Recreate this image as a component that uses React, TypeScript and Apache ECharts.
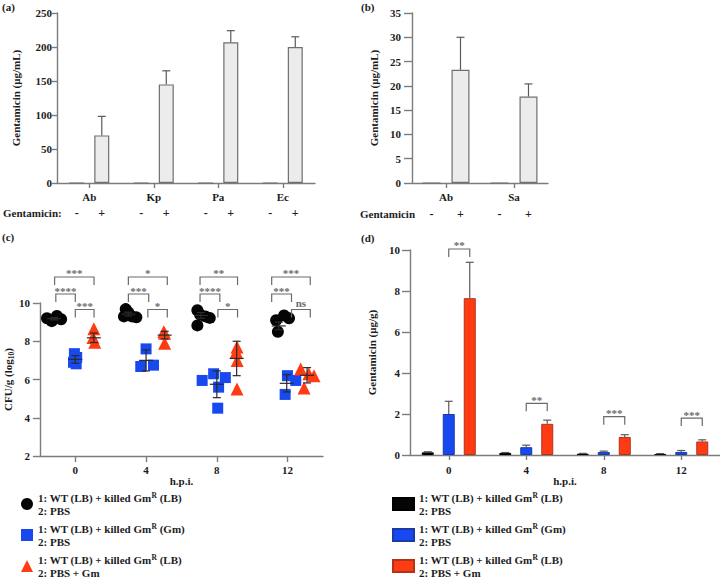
import React, { useEffect, useRef } from "react";
import * as echarts from "echarts";

// ---------------- data ----------------
const aCategories = ["Ab", "Kp", "Pa", "Ec"];
const aWithout = [0, 0, 0, 0];
const aWith = [70, 145, 207, 200];
const aWithErr = [98, 165, 224, 215];

const bCategories = ["Ab", "Sa"];
const bWithout = [0, 0];
const bWith = [23.3, 17.8];
const bWithErr = [30, 20.4];

const gentamicinSigns = ["-", "+"];

const hpiTicks = [0, 4, 8, 12];

// panel (c): [h.p.i. (jittered), CFU/g log10]
const cBlackPoints = [
  [-1.6, 9.2], [-1.33, 9.05], [-1.04, 9.32], [-0.8, 9.15],
  [2.75, 9.3], [2.85, 9.68], [3.0, 9.5], [3.2, 9.3], [3.45, 9.25],
  [6.9, 9.62], [7.05, 9.4], [7.35, 9.3], [7.6, 9.22], [6.9, 8.83],
  [11.35, 9.1], [11.8, 9.35], [12.08, 9.2], [11.45, 8.5],
];
const cBluePoints = [
  [-0.05, 7.35], [0.08, 7.15], [-0.1, 6.9], [0.05, 6.82],
  [4.0, 7.6], [3.7, 6.68], [4.42, 6.75],
  [7.17, 5.95], [7.82, 6.3], [8.1, 5.6], [8.48, 6.1], [8.05, 4.5],
  [11.86, 5.22], [11.99, 6.2], [12.46, 5.95],
];
const cRedPoints = [
  [1.05, 8.65], [1.0, 8.2], [1.1, 7.95],
  [5.0, 8.5], [5.05, 8.42], [5.05, 7.9],
  [9.14, 7.7], [9.1, 7.45], [9.15, 7.0], [9.14, 5.5],
  [12.74, 6.55], [12.93, 5.55], [13.49, 6.2], [13.2, 6.3],
];
const cBlackMeanX = [-1.2, 3.0, 7.1, 11.5];
const cBlackMean = [9.18, 9.42, 9.35, 8.8];
const cBlackSem = [0.06, 0.1, 0.15, 0.2];
const cBlueMeanX = [0, 4.0, 8.0, 11.95];
const cBlueMean = [7.05, 7.0, 5.75, 5.8];
const cBlueSem = [0.2, 0.55, 0.7, 0.45];
const cRedMeanX = [1.05, 5.05, 9.12, 13.1];
const cRedMean = [8.18, 8.32, 7.1, 6.22];
const cRedSem = [0.25, 0.2, 0.9, 0.4];
// [x from, x to, height, label]
const cBrackets: [number, number, number, string][] = [
  [-1.17, 1.06, 11.36, "***"], [-1.1, 0, 10.47, "****"], [0, 1.06, 9.66, "***"],
  [3.0, 5.2, 11.36, "*"], [3.0, 4.15, 10.47, "***"], [4.1, 5.2, 9.66, "*"],
  [7.05, 9.17, 11.36, "**"], [7.05, 8.17, 10.47, "****"], [8.06, 9.17, 9.66, "*"],
  [11.1, 13.28, 11.36, "***"], [11.1, 12.22, 10.47, "***"], [12.22, 13.28, 9.66, "ns"],
];

// panel (d)
const dCategories = ["0", "4", "8", "12"];
const dBlack = [0.13, 0.1, 0.06, 0.05];
const dBlackErr = [0.16, 0.12, 0.08, 0.07];
const dBlue = [2.0, 0.38, 0.15, 0.15];
const dBlueErr = [2.62, 0.48, 0.19, 0.22];
const dRed = [7.65, 1.52, 0.88, 0.66];
const dRedErr = [9.4, 1.7, 0.99, 0.74];
// [category index, height, label]
const dBrackets: [number, number, string][] = [
  [0, 10.05, "**"], [1, 2.52, "**"], [2, 1.87, "***"], [3, 1.8, "***"],
];

const legendLabels: Record<string, string> = {
  cBlack: "1: WT (LB) + killed Gm{sup|R} (LB)\n2: PBS",
  cBlue: "1: WT (LB) + killed Gm{sup|R} (Gm)\n2: PBS",
  cRed: "1: WT (LB) + killed Gm{sup|R} (LB)\n2: PBS + Gm",
  dBlack: "1: WT (LB) + killed Gm{sup|R} (LB)\n2: PBS",
  dBlue: "1: WT (LB) + killed Gm{sup|R} (Gm)\n2: PBS",
  dRed: "1: WT (LB) + killed Gm{sup|R} (LB)\n2: PBS + Gm",
};

// ---------------- style ----------------
const FONT = '"Liberation Serif", "Times New Roman", serif';
const TXT = "#1c1c1c";
const AXIS = "#7c7c7c";
const BLACK = "#050505";
const BLUE = "#1748f0";
const RED = "#ff3b14";
const GREYBAR = "#ececec";
const ERR = "#5a5a5a";
const BRACKET = "#6a6a6a";

const A_BAR_W = 15;
const A_GAP = 0.67;
const A_OFF = (A_BAR_W * (1 + A_GAP)) / 2;
const B_BAR_W = 18;
const B_GAP = 0.61;
const B_OFF = (B_BAR_W * (1 + B_GAP)) / 2;
const D_BAR_W = 12;
const D_GAP = 0.75;
const D_OFF = D_BAR_W * (1 + D_GAP);

const textBase = { fontFamily: FONT, fontWeight: "bold" as const, color: TXT };

function axisStyle(tickLen: number, margin: number, extra: any = {}) {
  return {
    axisLine: { show: true, onZero: false, lineStyle: { color: AXIS, width: 1.4 } },
    axisTick: { show: true, length: tickLen, lineStyle: { color: AXIS, width: 1.4 }, ...(extra.tick || {}) },
    axisLabel: { margin, fontSize: 11, ...textBase, ...(extra.label || {}) },
    splitLine: { show: false },
  };
}

const nameStyle = { fontSize: 11, ...textBase };

function errRender(offset: number) {
  return (params: any, api: any) => {
    const i = api.value(0);
    const base = api.coord([i, api.value(1)]);
    const top = api.coord([i, api.value(2)]);
    const x = base[0] + offset;
    const style = { stroke: ERR, lineWidth: 1.2, fill: null };
    return {
      type: "group",
      children: [
        { type: "line", shape: { x1: x, y1: base[1], x2: x, y2: top[1] }, style },
        { type: "line", shape: { x1: x - 4, y1: top[1], x2: x + 4, y2: top[1] }, style },
      ],
    };
  };
}

function signRender(offset: number, dy: number) {
  return (params: any, api: any) => {
    const i = api.value(0);
    const p = api.coord([i, 0]);
    return {
      type: "group",
      children: gentamicinSigns.map((s, k) => ({
        type: "text",
        style: {
          text: s,
          x: p[0] + (k === 0 ? -offset : offset),
          y: p[1] + dy,
          align: "center",
          verticalAlign: "middle",
          fill: TXT,
          fontSize: 12,
          fontWeight: "bold",
          fontFamily: FONT,
        },
      })),
    };
  };
}

function meanRender(params: any, api: any) {
  const x = api.value(0);
  const m = api.value(1);
  const e = api.value(2);
  const c = api.coord([x, m]);
  const lo = api.coord([x, m - e]);
  const hi = api.coord([x, m + e]);
  const style = { stroke: "#2a2a2a", lineWidth: 1.2, fill: null };
  return {
    type: "group",
    children: [
      { type: "line", shape: { x1: c[0] - 7, y1: c[1], x2: c[0] + 7, y2: c[1] }, style },
      { type: "line", shape: { x1: c[0], y1: lo[1], x2: c[0], y2: hi[1] }, style },
      { type: "line", shape: { x1: c[0] - 4, y1: lo[1], x2: c[0] + 4, y2: lo[1] }, style },
      { type: "line", shape: { x1: c[0] - 4, y1: hi[1], x2: c[0] + 4, y2: hi[1] }, style },
    ],
  };
}

function bracketShape(x1: number, x2: number, y: number, label: string) {
  const style = { stroke: BRACKET, lineWidth: 1.2, fill: null };
  return {
    type: "group",
    children: [
      { type: "polyline", shape: { points: [[x1, y + 8], [x1, y], [x2, y], [x2, y + 8]] }, style },
      {
        type: "text",
        style: {
          text: label,
          x: (x1 + x2) / 2,
          y: label === "ns" ? y - 1 : y + 2,
          align: "center",
          verticalAlign: "bottom",
          fill: BRACKET,
          fontSize: 11,
          fontWeight: "bold",
          fontFamily: FONT,
        },
      },
    ],
  };
}

function cBracketRender(params: any, api: any) {
  const b = cBrackets[params.dataIndex];
  const p1 = api.coord([api.value(0), api.value(2)]);
  const p2 = api.coord([api.value(1), api.value(2)]);
  return bracketShape(p1[0], p2[0], p1[1], b[3]);
}

function dBracketRender(params: any, api: any) {
  const b = dBrackets[params.dataIndex];
  const p = api.coord([api.value(0), api.value(1)]);
  return bracketShape(p[0], p[0] + D_OFF, p[1], b[2]);
}

const richSup = {
  sup: { fontSize: 7.5, fontFamily: FONT, fontWeight: "bold", color: TXT, verticalAlign: "top", lineHeight: 8 },
};

function buildOption(): any {
  const legendText = {
    ...textBase,
    fontSize: 11,
    lineHeight: 13,
    rich: richSup,
  };
  return {
    animation: false,
    backgroundColor: "#ffffff",
    textStyle: { fontFamily: FONT },
    grid: [
      { left: 57, top: 13, width: 258, height: 170 },
      { left: 412, top: 13, width: 136, height: 170 },
      { left: 39, top: 303, width: 284, height: 153 },
      { left: 410, top: 250, width: 310, height: 205 },
    ],
    xAxis: [
      {
        type: "category", gridIndex: 0, data: aCategories,
        ...axisStyle(5, 8, { tick: { alignWithLabel: true } }),
      },
      {
        type: "category", gridIndex: 1, data: bCategories,
        ...axisStyle(5, 8, { tick: { alignWithLabel: true } }),
      },
      {
        type: "value", gridIndex: 2, min: -2, max: 14,
        name: "h.p.i.", nameLocation: "middle", nameGap: 19, nameTextStyle: nameStyle,
        ...axisStyle(6, 8, { tick: { customValues: hpiTicks }, label: { customValues: hpiTicks } }),
      },
      {
        type: "category", gridIndex: 3, data: dCategories,
        name: "h.p.i.", nameLocation: "middle", nameGap: 20, nameTextStyle: nameStyle,
        ...axisStyle(5, 9, { tick: { alignWithLabel: true } }),
      },
    ],
    yAxis: [
      {
        type: "value", gridIndex: 0, min: 0, max: 250, interval: 50,
        name: "Gentamicin (μg/mL)", nameLocation: "middle", nameGap: 36, nameTextStyle: nameStyle,
        ...axisStyle(5, 5),
      },
      {
        type: "value", gridIndex: 1, min: 0, max: 35, interval: 5,
        name: "Gentamicin (μg/mL)", nameLocation: "middle", nameGap: 33, nameTextStyle: nameStyle,
        ...axisStyle(8, 11),
      },
      {
        type: "value", gridIndex: 2, min: 2, max: 10, interval: 2,
        name: "CFU/g (log{sub|10})", nameLocation: "middle", nameGap: 21,
        nameTextStyle: {
          ...nameStyle,
          lineHeight: 14,
          rich: { sub: { fontSize: 7.5, fontFamily: FONT, fontWeight: "bold", color: TXT, verticalAlign: "bottom", lineHeight: 8 } },
        },
        ...axisStyle(7, 10),
      },
      {
        type: "value", gridIndex: 3, min: 0, max: 10, interval: 2,
        name: "Gentamicin (μg/g)", nameLocation: "middle", nameGap: 33, nameTextStyle: nameStyle,
        ...axisStyle(8, 10),
      },
    ],
    legend: [
      {
        data: ["cBlack", "cBlue", "cRed"],
        orient: "vertical", left: 21, top: 491, height: 120, padding: 0,
        itemWidth: 12, itemHeight: 12, itemGap: 5,
        selectedMode: false,
        formatter: (n: string) => legendLabels[n],
        textStyle: legendText,
      },
      {
        data: ["dBlack", "dBlue", "dRed"],
        orient: "vertical", left: 392, top: 491, height: 120, padding: 0,
        itemWidth: 21, itemHeight: 12, itemGap: 5, icon: "rect",
        selectedMode: false,
        formatter: (n: string) => legendLabels[n],
        textStyle: legendText,
      },
    ],
    series: [
      // ---- (a) ----
      {
        type: "bar", name: "aMinus", xAxisIndex: 0, yAxisIndex: 0, data: aWithout,
        barWidth: A_BAR_W, barGap: `${A_GAP * 100}%`,
        itemStyle: { color: GREYBAR, borderColor: "#6f6f6f", borderWidth: 1.2 },
      },
      {
        type: "bar", name: "aPlus", xAxisIndex: 0, yAxisIndex: 0, data: aWith,
        barWidth: A_BAR_W, barGap: `${A_GAP * 100}%`,
        itemStyle: { color: GREYBAR, borderColor: "#6f6f6f", borderWidth: 1.2 },
      },
      {
        type: "custom", name: "aErr", xAxisIndex: 0, yAxisIndex: 0,
        data: aCategories.map((_, i) => [i, aWith[i], aWithErr[i]]),
        encode: { x: 0, y: [1, 2] }, renderItem: errRender(A_OFF), z: 3,
      },
      {
        type: "custom", name: "aSigns", xAxisIndex: 0, yAxisIndex: 0,
        data: aCategories.map((_, i) => [i, 0]),
        encode: { x: 0, y: 1 }, renderItem: signRender(A_OFF, 30), clip: false,
      },
      // ---- (b) ----
      {
        type: "bar", name: "bMinus", xAxisIndex: 1, yAxisIndex: 1, data: bWithout,
        barWidth: B_BAR_W, barGap: `${B_GAP * 100}%`,
        itemStyle: { color: GREYBAR, borderColor: "#6f6f6f", borderWidth: 1.2 },
      },
      {
        type: "bar", name: "bPlus", xAxisIndex: 1, yAxisIndex: 1, data: bWith,
        barWidth: B_BAR_W, barGap: `${B_GAP * 100}%`,
        itemStyle: { color: GREYBAR, borderColor: "#6f6f6f", borderWidth: 1.2 },
      },
      {
        type: "custom", name: "bErr", xAxisIndex: 1, yAxisIndex: 1,
        data: bCategories.map((_, i) => [i, bWith[i], bWithErr[i]]),
        encode: { x: 0, y: [1, 2] }, renderItem: errRender(B_OFF), z: 3,
      },
      {
        type: "custom", name: "bSigns", xAxisIndex: 1, yAxisIndex: 1,
        data: bCategories.map((_, i) => [i, 0]),
        encode: { x: 0, y: 1 }, renderItem: signRender(B_OFF, 31), clip: false,
      },
      // ---- (c) ----
      {
        type: "scatter", name: "cBlack", xAxisIndex: 2, yAxisIndex: 2, data: cBlackPoints,
        symbol: "circle", symbolSize: 12, itemStyle: { color: BLACK, opacity: 1 },
      },
      {
        type: "scatter", name: "cBlue", xAxisIndex: 2, yAxisIndex: 2, data: cBluePoints,
        symbol: "rect", symbolSize: 11, itemStyle: { color: BLUE, opacity: 1 },
      },
      {
        type: "scatter", name: "cRed", xAxisIndex: 2, yAxisIndex: 2, data: cRedPoints,
        symbol: "triangle", symbolSize: 13, itemStyle: { color: RED, opacity: 1 },
      },
      {
        type: "custom", name: "cMeanBlack", xAxisIndex: 2, yAxisIndex: 2,
        data: hpiTicks.map((_, i) => [cBlackMeanX[i], cBlackMean[i], cBlackSem[i]]),
        encode: { x: 0, y: 1 }, renderItem: meanRender, z: 4,
      },
      {
        type: "custom", name: "cMeanBlue", xAxisIndex: 2, yAxisIndex: 2,
        data: hpiTicks.map((_, i) => [cBlueMeanX[i], cBlueMean[i], cBlueSem[i]]),
        encode: { x: 0, y: 1 }, renderItem: meanRender, z: 4,
      },
      {
        type: "custom", name: "cMeanRed", xAxisIndex: 2, yAxisIndex: 2,
        data: hpiTicks.map((_, i) => [cRedMeanX[i], cRedMean[i], cRedSem[i]]),
        encode: { x: 0, y: 1 }, renderItem: meanRender, z: 4,
      },
      {
        type: "custom", name: "cBrackets", xAxisIndex: 2, yAxisIndex: 2,
        data: cBrackets.map((b) => [b[0], b[1], b[2]]),
        encode: { x: [0, 1], y: 2 }, renderItem: cBracketRender, clip: false, z: 4,
      },
      // ---- (d) ----
      {
        type: "bar", name: "dBlack", xAxisIndex: 3, yAxisIndex: 3, data: dBlack,
        barWidth: D_BAR_W, barGap: `${D_GAP * 100}%`,
        itemStyle: { color: BLACK, borderColor: "#000000", borderWidth: 1 },
      },
      {
        type: "bar", name: "dBlue", xAxisIndex: 3, yAxisIndex: 3, data: dBlue,
        barWidth: D_BAR_W, barGap: `${D_GAP * 100}%`,
        itemStyle: { color: BLUE, borderColor: "#1a3aa8", borderWidth: 1 },
      },
      {
        type: "bar", name: "dRed", xAxisIndex: 3, yAxisIndex: 3, data: dRed,
        barWidth: D_BAR_W, barGap: `${D_GAP * 100}%`,
        itemStyle: { color: RED, borderColor: "#b3321a", borderWidth: 1 },
      },
      {
        type: "custom", name: "dBlackErr", xAxisIndex: 3, yAxisIndex: 3,
        data: dCategories.map((_, i) => [i, dBlack[i], dBlackErr[i]]),
        encode: { x: 0, y: [1, 2] }, renderItem: errRender(-D_OFF), z: 3,
      },
      {
        type: "custom", name: "dBlueErr", xAxisIndex: 3, yAxisIndex: 3,
        data: dCategories.map((_, i) => [i, dBlue[i], dBlueErr[i]]),
        encode: { x: 0, y: [1, 2] }, renderItem: errRender(0), z: 3,
      },
      {
        type: "custom", name: "dRedErr", xAxisIndex: 3, yAxisIndex: 3,
        data: dCategories.map((_, i) => [i, dRed[i], dRedErr[i]]),
        encode: { x: 0, y: [1, 2] }, renderItem: errRender(D_OFF), z: 3,
      },
      {
        type: "custom", name: "dBrackets", xAxisIndex: 3, yAxisIndex: 3,
        data: dBrackets.map((b) => [b[0], b[1]]),
        encode: { x: 0, y: 1 }, renderItem: dBracketRender, clip: false, z: 4,
      },
    ],
    graphic: [
      { type: "text", left: 2, top: 1, style: { text: "(a)", fontSize: 11, fontWeight: "bold", fontFamily: FONT, fill: TXT } },
      { type: "text", left: 361, top: 1, style: { text: "(b)", fontSize: 11, fontWeight: "bold", fontFamily: FONT, fill: TXT } },
      { type: "text", left: 2, top: 231, style: { text: "(c)", fontSize: 11, fontWeight: "bold", fontFamily: FONT, fill: TXT } },
      { type: "text", left: 361, top: 232, style: { text: "(d)", fontSize: 11, fontWeight: "bold", fontFamily: FONT, fill: TXT } },
      { type: "text", left: 3, top: 207, style: { text: "Gentamicin:", fontSize: 11, fontWeight: "bold", fontFamily: FONT, fill: TXT } },
      { type: "text", left: 360, top: 208, style: { text: "Gentamicin", fontSize: 11, fontWeight: "bold", fontFamily: FONT, fill: TXT } },
    ],
  };
}

export default function App() {
  const ref = useRef<HTMLDivElement>(null);
  useEffect(() => {
    if (!ref.current) return;
    const chart = echarts.init(ref.current, undefined, { renderer: "svg" });
    chart.setOption(buildOption());
    return () => chart.dispose();
  }, []);
  return (
    <div
      ref={ref}
      style={{ position: "fixed", left: 0, top: 0, width: 720, height: 581, background: "#fff" }}
    />
  );
}
